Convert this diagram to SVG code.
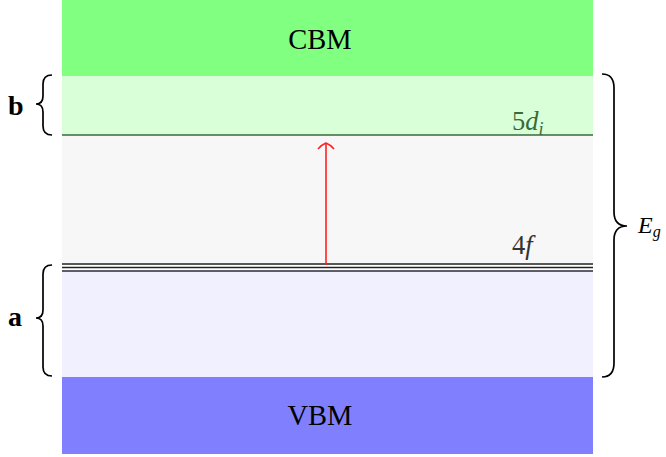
<svg xmlns="http://www.w3.org/2000/svg" width="666" height="457" viewBox="0 0 666 457">
<style>
.lbl{font-family:"Liberation Serif","DejaVu Serif",serif;fill:#000}
.it{font-style:italic}
.brace{fill:none;stroke:#000;stroke-width:1.7}
</style>
<rect width="666" height="457" fill="#fff"/>
<g id="bands">
<rect x="62" y="135" width="531" height="130" fill="#f7f7f7"/>
<rect x="62" y="271" width="531" height="106" fill="#f0f0ff"/>
</g>
<g id="cbm">
<rect x="62" y="0" width="531" height="76" fill="#80ff80"/>
<text class="lbl" x="320" y="49" font-size="28.5" text-anchor="middle">CBM</text>
</g>
<g id="band-b">
<rect x="62" y="76" width="531" height="59" fill="#d9ffd9"/>
<line x1="62" y1="135" x2="593" y2="135" stroke="#3a6a3a" stroke-width="1.6"/>
<text class="lbl" x="512" y="130" font-size="26.5" style="fill:#3a6a3a">5<tspan class="it">d</tspan><tspan class="it" font-size="18" dy="5">i</tspan></text>
</g>
<g id="level-4f">
<line x1="62" y1="264" x2="593" y2="264" stroke="#222" stroke-width="1.3"/>
<line x1="62" y1="267.5" x2="593" y2="267.5" stroke="#222" stroke-width="1.3"/>
<line x1="62" y1="271" x2="593" y2="271" stroke="#2a2a3a" stroke-width="1.3"/>
<text class="lbl" x="512" y="254" font-size="26.5" style="fill:#333">4<tspan class="it">f</tspan></text>
</g>
<g id="vbm">
<rect x="62" y="377" width="531" height="77" fill="#8080ff"/>
<text class="lbl" x="320" y="425" font-size="28.5" text-anchor="middle">VBM</text>
</g>
<g id="connectors">
<line x1="326" y1="265" x2="326" y2="144" stroke="#ff2020" stroke-width="1.6"/>
<path d="M318 149 Q322 144.5 326 143 Q330 144.5 334 149" fill="none" stroke="#ff2020" stroke-width="1.6"/>
</g>
<g id="brace-b">
<path class="brace" d="M52 75 Q43 75 43 84 L43 96 Q43 104 36 104 Q43 104 43 112 L43 126 Q43 135 52 135"/>
<text class="lbl" x="8" y="115" font-size="28" font-weight="bold">b</text>
</g>
<g id="brace-a">
<path class="brace" d="M52 265 Q43 265 43 274 L43 310 Q43 318 36 318 Q43 318 43 326 L43 367 Q43 376 52 376"/>
<text class="lbl" x="8" y="326" font-size="28" font-weight="bold">a</text>
</g>
<g id="brace-eg">
<path class="brace" d="M602 74 Q614 74 614 88 L614 212 Q614 226 627 226 Q614 226 614 240 L614 363 Q614 377 602 377"/>
<text class="lbl it" x="638" y="233" font-size="24">E<tspan font-size="16" dy="4">g</tspan></text>
</g>
</svg>
